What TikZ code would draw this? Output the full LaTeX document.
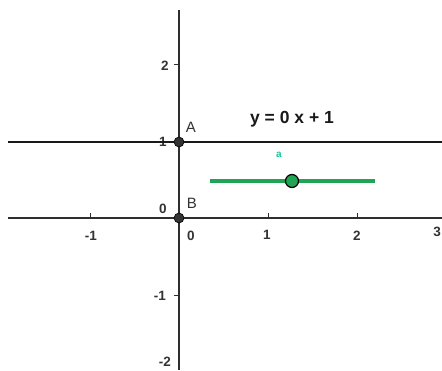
\documentclass[tikz,border=0pt]{standalone}
\usepackage{fontspec}
\setmainfont{Liberation Sans}
\definecolor{axisc}{HTML}{2E2E2E}
\definecolor{labc}{HTML}{333333}
\definecolor{greenc}{HTML}{22A455}
\definecolor{ptc}{HTML}{333333}
\begin{document}
\begin{tikzpicture}[x=1pt,y=-1pt,
  axisline/.style={draw=axisc,line width=1.4pt},
  tick/.style={draw=axisc,line width=1pt},
  ticklab/.style={text=labc,font=\fontsize{13.5}{13.5}\bfseries\selectfont,inner sep=0pt},
  ptlab/.style={text=labc,font=\fontsize{15}{15}\selectfont,inner sep=0pt},
  blackpt/.style={circle,fill=ptc,draw=black,line width=0.6pt,minimum size=10pt,inner sep=0pt},
  greenpt/.style={circle,fill=greenc,draw=black,line width=1.2pt,minimum size=13pt,inner sep=0pt}]
\useasboundingbox (0,0) rectangle (442,370);
\fill[white] (0,0) rectangle (442,370);
\clip (0,0) rectangle (442,370);
% axes endpoints
\coordinate (xl) at (8,218);
\coordinate (xr) at (442,218);
\coordinate (yt) at (179,10);
\coordinate (yb) at (179,370);
\draw[axisline] (xl) -- (xr);
\draw[axisline] (yt) -- (yb);
% ticks
\foreach \x in {90,268,357} \draw[tick] (\x,213) -- (\x,218);
\foreach \y in {64,142,295} \draw[tick] (174,\y) -- (179,\y);
% tick labels
\node[ticklab] (tx1) at (91,236) {-1};
\node[ticklab] (tx0) at (191,236) {0};
\node[ticklab] (tx2) at (267,235) {1};
\node[ticklab] (tx3) at (357,236) {2};
\node[ticklab,anchor=east] (tx4) at (441,232) {3};
\node[ticklab] (ty2) at (165,66) {2};
\node[ticklab] (ty1) at (163,142) {1};
\node[ticklab] (ty0) at (163,209) {0};
\node[ticklab] (tym1) at (160,296) {-1};
\node[ticklab,anchor=south] (tym2) at (165,367) {-2};
% line y = 1
\coordinate (ll) at (8,142);
\coordinate (lr) at (442,142);
\draw[black!90,line width=2.6pt] (ll) -- (lr);
% slider
\coordinate (sl) at (210,181);
\coordinate (sr) at (375,181);
\draw[greenc,line width=3.6pt] (sl) -- (sr);
\node[greenpt] (g) at (292,181) {};
\node[text=greenc!60!cyan,font=\fontsize{10}{10}\bfseries\selectfont,inner sep=0pt] (alab) at (279,155) {a};
% points
\node[blackpt] (A) at (179,142) {};
\node[blackpt] (B) at (179,218) {};
\node[ptlab] (Alab) at (191,127) {A};
\node[ptlab] (Blab) at (192,203) {B};
% equation
\node[font=\fontsize{17.5}{17.5}\bfseries\selectfont,inner sep=0pt,text=black!90] (eq) at (292,119) {y = 0 x + 1};
\end{tikzpicture}
\end{document}
